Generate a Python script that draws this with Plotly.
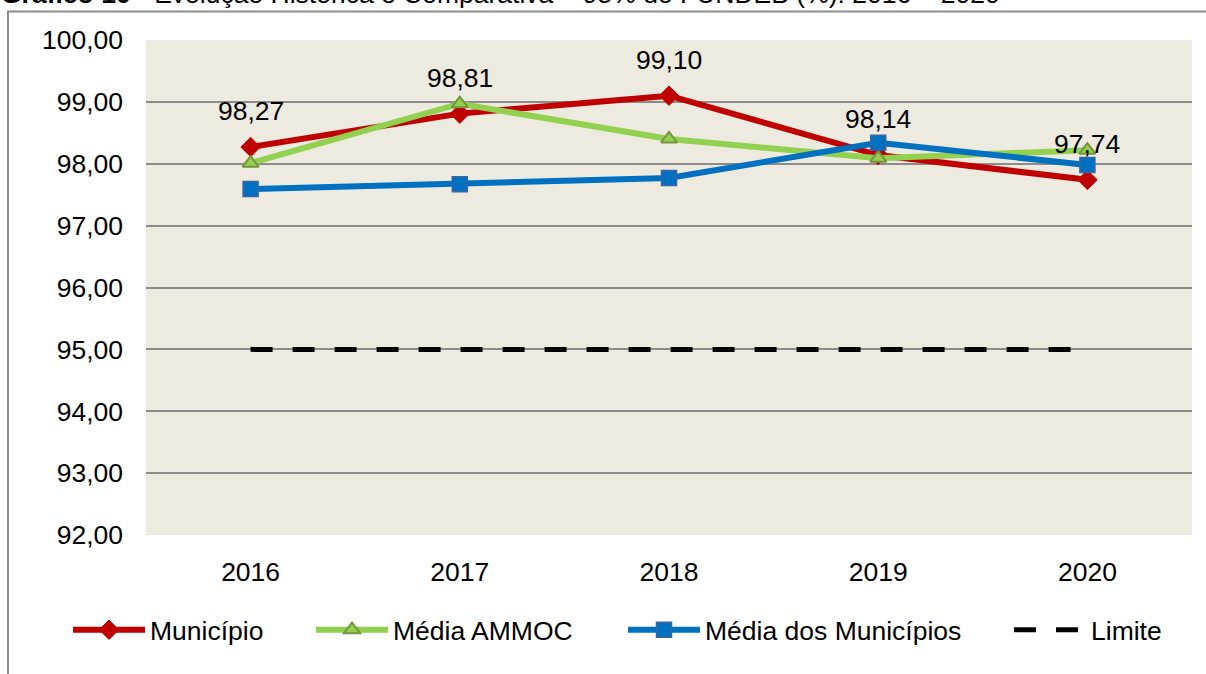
import plotly.graph_objects as go

years = ["2016", "2017", "2018", "2019", "2020"]
municipio = [98.27, 98.81, 99.10, 98.14, 97.74]
media_ammoc = [98.01, 98.97, 98.40, 98.09, 98.22]
media_municipios = [97.59, 97.67, 97.77, 98.34, 97.98]
limite = [95.00, 95.00, 95.00, 95.00, 95.00]
y_ticks = [92, 93, 94, 95, 96, 97, 98, 99, 100]
title_bold = "Gráfico 10"
title_rest = " - Evolução Histórica e Comparativa – 95% do FUNDEB (%): 2016 – 2020"

FONT = "Liberation Sans, Arial, sans-serif"
FS = 26.5
W, H = 1206, 674
L, R, T, B = 146, 14, 40, 139
pw, ph = W - L - R, H - T - B


def px_x(x):
    return (x - L) / pw


def px_y(y):
    return (H - B - y) / ph


fig = go.Figure()
fig.add_trace(go.Scatter(
    x=years, y=municipio, name="Município", mode="lines+markers",
    line=dict(color="#C00000", width=6), legend="legend",
    marker=dict(symbol="diamond", size=15, color="#C00000",
                line=dict(color="#C00000", width=1))))
fig.add_trace(go.Scatter(
    x=years, y=media_ammoc, name="Média AMMOC", mode="lines+markers",
    line=dict(color="#92D050", width=6), legend="legend2",
    marker=dict(symbol="triangle-up", size=14, color="#92D050",
                line=dict(color="#77933C", width=2))))
fig.add_trace(go.Scatter(
    x=years, y=media_municipios, name="Média dos Municípios", mode="lines+markers",
    line=dict(color="#0070C0", width=6), legend="legend3",
    marker=dict(symbol="square", size=15, color="#0070C0",
                line=dict(color="#3B64A0", width=1.5))))
fig.add_trace(go.Scatter(
    x=years, y=limite, name="Limite", mode="lines", legend="legend4",
    line=dict(color="#000000", width=5, dash="22px,20px")))

for i, v in enumerate(municipio):
    fig.add_annotation(x=i, y=v, text=f"{v:.2f}".replace(".", ","),
                       showarrow=False, yshift=36,
                       font=dict(family=FONT, size=FS, color="#000000"))

fig.add_annotation(xref="paper", yref="paper", x=px_x(-1), y=px_y(-6),
                   xanchor="left", yanchor="middle", showarrow=False,
                   text=f"<b>{title_bold}</b>{title_rest}",
                   font=dict(family=FONT, size=FS, color="#000000"))

fig.add_shape(type="rect", xref="paper", yref="paper",
              x0=px_x(8), x1=1.3, y0=-0.6, y1=px_y(11.5),
              line=dict(color="#8C8C8C", width=2), fillcolor="rgba(0,0,0,0)",
              layer="below")

leg_common = dict(orientation="h", xanchor="left", yanchor="middle",
                  itemwidth=72, bgcolor="rgba(0,0,0,0)", borderwidth=0,
                  font=dict(family=FONT, size=FS, color="#000000"))
leg_y = px_y(630)

fig.update_layout(
    width=W, height=H,
    margin=dict(l=L, r=R, t=T, b=B, pad=0),
    paper_bgcolor="#FFFFFF", plot_bgcolor="#EDEAE0",
    separators=",.",
    font=dict(family=FONT, size=FS, color="#000000"),
    showlegend=True,
    legend=dict(x=px_x(73 - 5), y=leg_y, **leg_common),
    legend2=dict(x=px_x(316 - 5), y=leg_y, **leg_common),
    legend3=dict(x=px_x(628 - 5), y=leg_y, **leg_common),
    legend4=dict(x=px_x(1014 - 5), y=leg_y, **leg_common),
    xaxis=dict(type="category", range=[-0.5, 4.5], showgrid=False,
               showline=False, zeroline=False, ticks="",
               ticklabelstandoff=18,
               tickfont=dict(family=FONT, size=FS)),
    yaxis=dict(range=[92, 100], tickvals=y_ticks, tickformat=".2f",
               showgrid=True, gridcolor="#8C8C8C", gridwidth=2,
               showline=False, zeroline=False, ticks="",
               ticklabelstandoff=22,
               tickfont=dict(family=FONT, size=FS)),
)

fig.write_html("out.html", config={"displayModeBar": False},
               post_script="document.body.style.margin='0px';")
